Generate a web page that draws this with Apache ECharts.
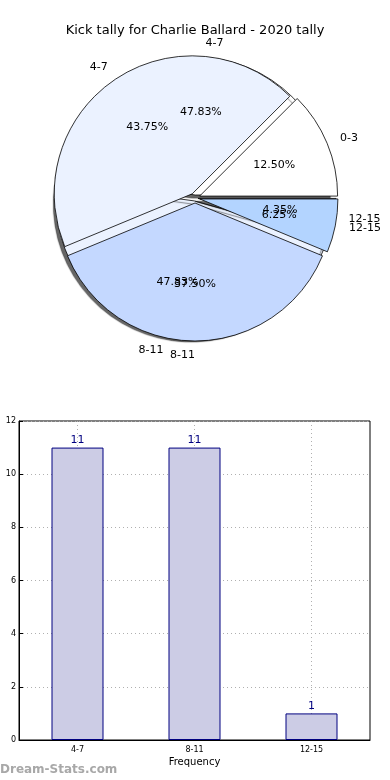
<!DOCTYPE html>
<html>
<head>
<meta charset="utf-8">
<script src="https://cdn.jsdelivr.net/npm/echarts@6/dist/echarts.min.js"></script>
<style>
html,body{margin:0;padding:0;background:#fff;}
#c{width:390px;height:780px;}
</style>
</head>
<body>
<div id="c"></div>
<script>
// Data
const titleText = 'Kick tally for Charlie Ballard - 2020 tally';
const pieCategoriesA = ['0-3', '4-7', '8-11', '12-15'];
const pieValuesA = [2, 7, 6, 1];
const pieCategoriesB = ['4-7', '8-11', '12-15'];
const pieValuesB = [11, 11, 1];
const barCategories = ['4-7', '8-11', '12-15'];
const barValues = [11, 11, 1];
const xAxisName = 'Frequency';
const yAxisName = 'Stat Kick Tally';
const watermark = 'Dream-Stats.com';

const pieColors = ['#ffffff', '#ebf2ff', '#c4d8ff', '#b3d4ff'];
const FONT = 'DejaVu Sans';
const CX = 195, CY = 198, R = 138;

function pieData(cats, vals, selected, colored) {
  return cats.map((c, i) => {
    const d = { name: c, value: vals[i] };
    if (selected) d.selected = true;
    if (colored) d.itemStyle = { color: pieColors[i] };
    return d;
  });
}

const nameLabel = {
  show: true, position: 'outside', formatter: '{b}',
  fontFamily: FONT, fontSize: 11, color: '#000', distanceToLabelLine: 0
};
const nameLabelLine = { show: false, length: Math.round(R * 0.1), length2: 0 };
function pctLabel(vals) {
  const total = vals.reduce((a, b) => a + b, 0);
  return {
    show: true, position: 'inside', fontFamily: FONT, fontSize: 11, color: '#000',
    formatter: p => (p.value / total * 100).toFixed(2) + '%'
  };
}
const noHide = { hideOverlap: false, moveOverlap: null };

const chart = echarts.init(document.getElementById('c'), null, { renderer: 'canvas' });
chart.setOption({
  animation: false,
  backgroundColor: '#fff',
  title: {
    text: titleText, left: 'center', top: 19,
    textStyle: { fontFamily: FONT, fontSize: 13, fontWeight: 'normal', color: '#000' }
  },
  grid: {
    left: 19, right: 20, top: 421, height: 319,
    outerBoundsMode: 'none', containLabel: false,
    show: true, borderColor: '#000', borderWidth: 1, backgroundColor: 'rgba(0,0,0,0)'
  },
  xAxis: {
    type: 'category', data: barCategories,
    name: xAxisName, nameLocation: 'middle', nameGap: 17,
    nameTextStyle: { fontFamily: FONT, fontSize: 10, color: '#000' },
    axisLine: { lineStyle: { color: '#000' } },
    axisTick: { alignWithLabel: true, inside: true, length: 4, lineStyle: { color: '#000' } },
    axisLabel: { fontFamily: FONT, fontSize: 8, color: '#000', margin: 6 },
    splitLine: { show: true, alignWithLabel: true, lineStyle: { color: '#b0b0b0', type: [1, 3] } }
  },
  yAxis: {
    type: 'value', min: 0, max: 12, interval: 2,
    name: yAxisName, nameLocation: 'middle', nameGap: 14,
    nameTextStyle: { fontFamily: FONT, fontSize: 10, color: '#000' },
    axisLine: { show: true, lineStyle: { color: '#000' } },
    axisTick: { show: true, inside: true, length: 4, lineStyle: { color: '#000' } },
    axisLabel: { fontFamily: FONT, fontSize: 8, color: '#000', margin: 3 },
    splitLine: { show: true, lineStyle: { color: '#b0b0b0', type: [1, 3] } }
  },
  graphic: [{
    type: 'text', left: 0, top: 764,
    style: { text: watermark, fontFamily: FONT, fontSize: 12, fontWeight: 'bold', fill: '#a8a8a8' }
  }],
  series: [
    {
      type: 'pie', center: [CX, CY], radius: [0, R],
      startAngle: 0, clockwise: false, avoidLabelOverlap: false, labelLayout: noHide,
      selectedMode: 'multiple', selectedOffset: 3,
      data: pieData(pieCategoriesB, pieValuesB, true, true),
      itemStyle: { borderColor: '#000', borderWidth: 0.8,
        shadowColor: 'rgba(0,0,0,0.6)', shadowBlur: 1, shadowOffsetX: -3, shadowOffsetY: 3 },
      label: nameLabel, labelLine: nameLabelLine,
      emphasis: { disabled: true }, silent: true, z: 1
    },
    {
      type: 'pie', center: [CX, CY], radius: [0, R],
      startAngle: 0, clockwise: false, avoidLabelOverlap: false, labelLayout: noHide,
      selectedMode: 'multiple', selectedOffset: 5,
      data: pieData(pieCategoriesA, pieValuesA, true, true),
      itemStyle: { borderColor: '#000', borderWidth: 0.8 },
      label: nameLabel, labelLine: nameLabelLine,
      emphasis: { disabled: true }, silent: true, z: 2
    },
    {
      type: 'pie', center: [CX, CY], radius: [0, R * 1.2],
      startAngle: 0, clockwise: false, avoidLabelOverlap: false, labelLayout: noHide,
      data: pieData(pieCategoriesB, pieValuesB, false, false),
      itemStyle: { color: 'rgba(0,0,0,0)', borderWidth: 0 },
      label: pctLabel(pieValuesB), labelLine: { show: false },
      emphasis: { disabled: true }, silent: true, z: 3
    },
    {
      type: 'pie', center: [CX, CY], radius: [0, R * 1.2],
      startAngle: 0, clockwise: false, avoidLabelOverlap: false, labelLayout: noHide,
      data: pieData(pieCategoriesA, pieValuesA, false, false),
      itemStyle: { color: 'rgba(0,0,0,0)', borderWidth: 0 },
      label: pctLabel(pieValuesA), labelLine: { show: false },
      emphasis: { disabled: true }, silent: true, z: 4
    },
    {
      type: 'bar', data: barValues, barWidth: 52,
      itemStyle: { color: '#ccccE5', borderColor: '#000080', borderWidth: 1 },
      label: { show: true, position: 'top', distance: 2, color: '#000080', fontFamily: FONT, fontSize: 11 },
      emphasis: { disabled: true }, silent: true
    }
  ]
});
</script>
</body>
</html>
